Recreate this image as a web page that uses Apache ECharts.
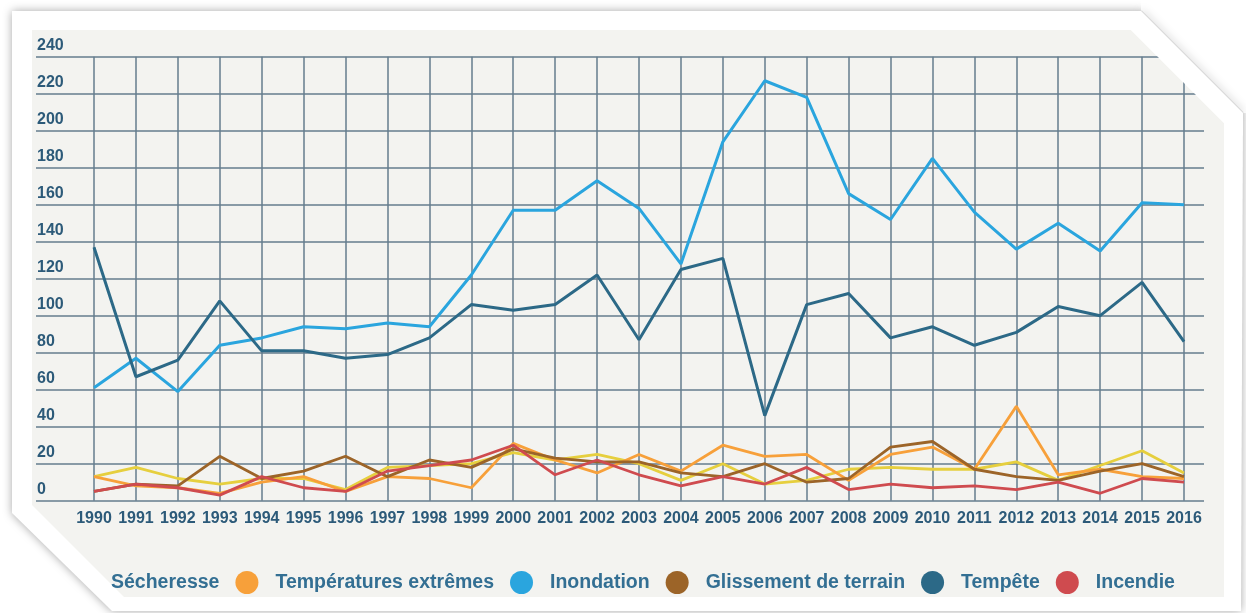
<!DOCTYPE html>
<html lang="fr">
<head>
    <meta charset="utf-8">
    <title>Catastrophes naturelles 1990-2016</title>
    <script src="https://cdn.jsdelivr.net/npm/echarts/dist/echarts.min.js"></script>
    <style type="text/css">
        html, body {
            margin: 0;
            padding: 0;
            background: #ffffff;
        }

        #main {
            width: 1246px;
            height: 613px;
        }
    </style>
</head>
<body>
<div id="main"></div>
<script type="text/javascript">
    // données (nombre d'événements par an)
    const years = ['1990', '1991', '1992', '1993', '1994', '1995', '1996', '1997', '1998', '1999',
        '2000', '2001', '2002', '2003', '2004', '2005', '2006', '2007', '2008', '2009',
        '2010', '2011', '2012', '2013', '2014', '2015', '2016'];

    const secheresse = [13, 18, 12, 9, 12, 12, 6, 18, 19, 20, 26, 22, 25, 20, 11, 20, 9, 11, 17, 18, 17, 17, 21, 11, 19, 27, 15];
    const temperatures = [13, 8, 7, 4, 10, 13, 5, 13, 12, 7, 31, 22, 15, 25, 16, 30, 24, 25, 11, 25, 29, 17, 51, 14, 17, 13, 12];
    const inondation = [61, 77, 59, 84, 88, 94, 93, 96, 94, 122, 157, 157, 173, 158, 128, 194, 227, 218, 166, 152, 185, 156, 136, 150, 135, 161, 160];
    const glissement = [5, 9, 8, 24, 12, 16, 24, 13, 22, 18, 28, 23, 21, 21, 15, 13, 20, 10, 12, 29, 32, 17, 13, 11, 16, 20, 13];
    const tempete = [137, 67, 76, 108, 81, 81, 77, 79, 88, 106, 103, 106, 122, 87, 125, 131, 46, 106, 112, 88, 94, 84, 91, 105, 100, 118, 86];
    const incendie = [5, 9, 7, 3, 13, 7, 5, 16, 19, 22, 30, 14, 22, 14, 8, 13, 9, 18, 6, 9, 7, 8, 6, 10, 4, 12, 10];

    const yMin = 0, yMax = 240, yStep = 20;

    const gridColor = '#647c8e';
    const labelColor = '#2c5a79';

    let myChart = echarts.init(document.getElementById('main'));

    function lineSerie(name, data, color, width, z) {
        return {
            name: name,
            type: 'line',
            xAxisIndex: 1,
            yAxisIndex: 1,
            data: data,
            symbol: 'none',
            z: z,
            lineStyle: {color: color, width: width},
            itemStyle: {color: color}
        };
    }

    let option = {
        animation: false,
        backgroundColor: '#ffffff',
        // cadre blanc à coins coupés + zone grise
        graphic: [
            {
                type: 'polygon', z: -20, silent: true,
                shape: {points: [[12, 11], [1141, 11], [1243, 113], [1241, 611], [112, 611], [12, 513]]},
                style: {fill: '#ffffff', shadowBlur: 10, shadowColor: 'rgba(0,0,0,0.35)'}
            },
            {
                type: 'polygon', z: -19, silent: true,
                shape: {points: [[32, 30], [1131, 30], [1224, 123], [1224, 597], [124, 597], [32, 505]]},
                style: {fill: '#f3f3f0'}
            },
            // masque du coin haut droit (coupe la grille)
            {
                type: 'polygon', z: 50, silent: true,
                shape: {points: [[1141, 11], [1141, -10], [1260, -10], [1260, 113], [1243, 113]]},
                style: {fill: '#ffffff'}
            },
            {
                type: 'polyline', z: 51, silent: true,
                shape: {points: [[1141, 11], [1243, 113]]},
                style: {stroke: '#d8d8d8', lineWidth: 2, shadowBlur: 8, shadowColor: 'rgba(0,0,0,0.35)'}
            },
            {
                type: 'polygon', z: 52, silent: true,
                shape: {points: [[1131, 30], [1131, 11], [1141, 11], [1243, 113], [1243, 135], [1224, 135], [1224, 123]]},
                style: {fill: '#ffffff'}
            }
        ],
        legend: {
            left: 66,
            top: 566,
            icon: 'circle',
            itemWidth: 27,
            itemHeight: 23,
            itemGap: 16,
            textStyle: {
                color: '#336f93',
                fontFamily: 'Liberation Sans, Arial, sans-serif',
                fontWeight: 'bold',
                fontSize: 19.5,
                padding: [0, 0, 0, 10]
            },
            data: [
                {name: 'Sécheresse', itemStyle: {color: 'rgba(0,0,0,0)'}},
                {name: 'Températures extrêmes'},
                {name: 'Inondation'},
                {name: 'Glissement de terrain'},
                {name: 'Tempête'},
                {name: 'Incendie'}
            ]
        },
        grid: [
            // grille horizontale, plus large que les données
            {left: 36, right: 42, top: 56.7, bottom: 112.3},
            // zone des courbes
            {left: 94, right: 62, top: 56.7, bottom: 112.3}
        ],
        xAxis: [
            {gridIndex: 0, type: 'value', show: false, min: 0, max: 1},
            {
                gridIndex: 1,
                type: 'category',
                boundaryGap: false,
                data: years,
                axisLine: {show: false},
                axisTick: {show: false},
                axisLabel: {
                    interval: 0,
                    margin: 10,
                    color: labelColor,
                    fontFamily: 'Liberation Sans, Arial, sans-serif',
                    fontWeight: 'bold',
                    fontSize: 16
                },
                splitLine: {show: true, interval: 0, lineStyle: {color: gridColor, width: 1.5}}
            }
        ],
        yAxis: [
            {
                gridIndex: 0,
                type: 'value',
                min: yMin,
                max: yMax,
                interval: yStep,
                axisLine: {show: false},
                axisTick: {show: false},
                axisLabel: {
                    inside: true,
                    margin: 1,
                    verticalAlign: 'bottom',
                    padding: [0, 0, 3, 0],
                    color: labelColor,
                    fontFamily: 'Liberation Sans, Arial, sans-serif',
                    fontWeight: 'bold',
                    fontSize: 16
                },
                splitLine: {show: true, lineStyle: {color: gridColor, width: 1.5}}
            },
            {gridIndex: 1, type: 'value', min: yMin, max: yMax, interval: yStep, show: false, splitLine: {show: false}}
        ],
        series: [
            lineSerie('Sécheresse', secheresse, '#e6cf3e', 2.8, 2),
            lineSerie('Températures extrêmes', temperatures, '#f7a03a', 2.8, 3),
            lineSerie('Inondation', inondation, '#2aa5de', 3, 4),
            lineSerie('Glissement de terrain', glissement, '#9c6428', 2.8, 3),
            lineSerie('Tempête', tempete, '#2c6987', 3, 4),
            lineSerie('Incendie', incendie, '#cf4b4f', 2.8, 3)
        ]
    };

    myChart.setOption(option);
</script>
</body>
</html>
